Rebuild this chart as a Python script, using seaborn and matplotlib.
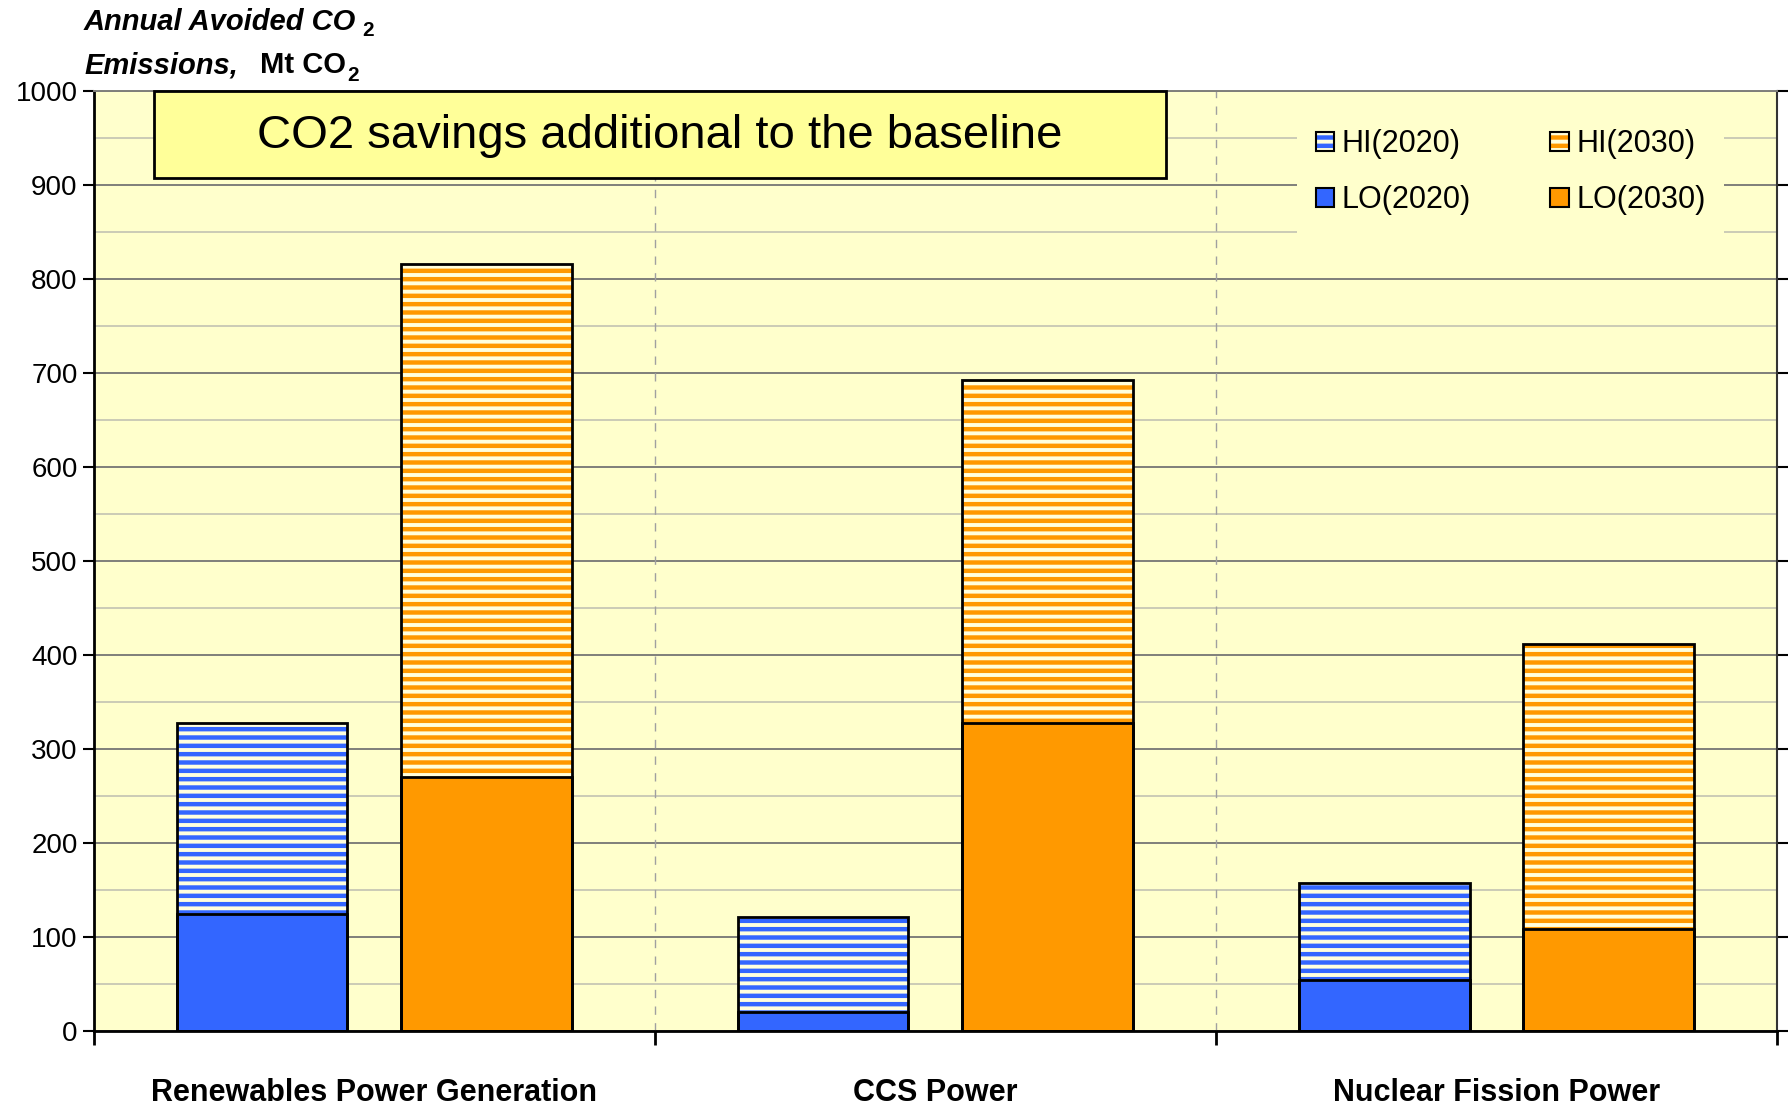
import numpy as np
import pandas as pd
import matplotlib
matplotlib.use("Agg")
import matplotlib.pyplot as plt
import seaborn as sns
from matplotlib.patches import Patch, Rectangle
from matplotlib.legend_handler import HandlerTuple

# values (Mt CO2)
categories = ["Renewables Power Generation", "CCS Power", "Nuclear Fission Power"]
years = ["2020", "2030"]
lo_2020 = [125, 20, 54]
hi_2020 = [328, 121, 157]
lo_2030 = [270, 328, 108]
hi_2030 = [816, 692, 412]

df = pd.DataFrame({
    "tech": categories * 2,
    "year": [years[0]] * 3 + [years[1]] * 3,
    "lo": lo_2020 + lo_2030,
    "hi": hi_2020 + hi_2030,
})

sns.set_style("ticks")
plt.rcParams["font.family"] = ["Liberation Sans", "DejaVu Sans"]
plt.rcParams["text.color"] = "black"
plt.rcParams["xtick.color"] = "black"
plt.rcParams["ytick.color"] = "black"
plt.rcParams["hatch.linewidth"] = 3.2

blue = "#3366FF"
orange = "#FF9900"
cream = "#FFFFDD"
palette = {"2020": blue, "2030": orange}

fig = plt.figure(figsize=(17.89, 11.06), dpi=100)
ax = fig.add_axes([0.0523, 0.0678, 0.941, 0.850])
ax.set_facecolor("#FFFFCC")

# HI: full bar height, striped
sns.barplot(data=df, x="tech", y="hi", hue="year", palette=palette, width=0.8,
            gap=0.24, errorbar=None, legend=False, saturation=1, ax=ax)
for cont, yr in zip(ax.containers, years):
    for bar in cont:
        bar.set_facecolor(cream)
        bar.set_edgecolor(palette[yr])
        bar.set_hatch("--")
        bar.set_linewidth(0)
hi_bars = [b for cont in ax.containers for b in cont]

# LO: solid part at the bottom
sns.barplot(data=df, x="tech", y="lo", hue="year", palette=palette, width=0.8,
            gap=0.24, errorbar=None, legend=False, saturation=1, ax=ax,
            edgecolor="black", linewidth=2)

# black outline round the HI bars
for b in hi_bars:
    ax.add_patch(Rectangle(b.get_xy(), b.get_width(), b.get_height(),
                           fill=False, edgecolor="black", lw=2, zorder=3))

ax.set_axisbelow(True)
ax.set_ylim(0, 1000)
ax.set_yticks(np.arange(0, 1001, 100))
ax.set_yticks(np.arange(0, 1001, 50), minor=True)
ax.yaxis.grid(True, which="major", color="#7f7f7a", lw=1.4)
ax.yaxis.grid(True, which="minor", color="#bdbdb0", lw=1.1)
ax.tick_params(axis="y", which="major", labelsize=20, length=8, width=1.5,
               right=True)
ax.tick_params(axis="y", which="minor", length=0)

ax.set_xlim(-0.5, 2.5)
ax.set_xticks([-0.5, 0.5, 1.5, 2.5])
ax.set_xticklabels([])
ax.set_xticks([0, 1, 2], minor=True)
ax.set_xticklabels(categories, minor=True, fontweight="bold", fontsize=22)
ax.tick_params(axis="x", which="major", length=10, width=2)
ax.tick_params(axis="x", which="minor", length=0, pad=34)
ax.set_xlabel("")
ax.set_ylabel("")

for xb in [0.5, 1.5]:
    ax.axvline(xb, color="#a0a0a0", lw=1, ls=(0, (6, 6)), zorder=0.6)

for side in ["left", "bottom"]:
    ax.spines[side].set_color("black")
    ax.spines[side].set_linewidth(2)
ax.spines["right"].set_color("#333333")
ax.spines["right"].set_linewidth(1.5)
ax.spines["top"].set_color("#7f7f7a")
ax.spines["top"].set_linewidth(1.4)

# title box
ax.add_patch(Rectangle((0.036, 0.907), 0.601, 0.093, transform=ax.transAxes,
                       facecolor="#FFFF99", edgecolor="black", lw=2, zorder=4,
                       clip_on=False))
ax.text(0.3365, 0.952, "CO2 savings additional to the baseline", transform=ax.transAxes,
        ha="center", va="center", fontsize=34, zorder=5)

# legend
handles = [
    (Patch(facecolor=cream, edgecolor=blue, hatch="--", lw=0), Patch(fill=False, edgecolor="black", lw=1.5)),
    (Patch(facecolor=blue, edgecolor="black", lw=1.5),),
    (Patch(facecolor=cream, edgecolor=orange, hatch="--", lw=0), Patch(fill=False, edgecolor="black", lw=1.5)),
    (Patch(facecolor=orange, edgecolor="black", lw=1.5),),
]
labels = ["HI(2020)", "LO(2020)", "HI(2030)", "LO(2030)"]
leg = ax.legend(handles, labels, handler_map={tuple: HandlerTuple(ndivide=1)},
                ncol=2, loc="upper left", bbox_to_anchor=(0.706, 0.995),
                fontsize=22, frameon=True, facecolor="#FFFFCC", edgecolor="none",
                framealpha=1, fancybox=False, handlelength=0.6, handleheight=0.6,
                handletextpad=0.25, columnspacing=2.6, labelspacing=0.85,
                borderpad=0.6)

# y axis title above the axis
t1 = fig.text(0.047, 0.980, "Annual Avoided CO", fontsize=21, fontweight="bold",
              fontstyle="italic", va="center")
ax.annotate("2", xy=(1, 0), xycoords=t1, xytext=(4, -3), textcoords="offset points",
            fontsize=15, fontweight="bold", va="bottom", annotation_clip=False)
t2 = fig.text(0.047, 0.941, "Emissions,", fontsize=21, fontweight="bold",
              fontstyle="italic", va="center")
t3 = ax.annotate("Mt CO", xy=(1, 0), xycoords=t2, xytext=(16, 0), textcoords="offset points",
                 fontsize=21, fontweight="bold", va="bottom", annotation_clip=False)
ax.annotate("2", xy=(1, 0), xycoords=t3, xytext=(1, -4), textcoords="offset points",
            fontsize=15, fontweight="bold", va="bottom", annotation_clip=False)

fig.savefig("out.png", dpi=100, facecolor="white")
